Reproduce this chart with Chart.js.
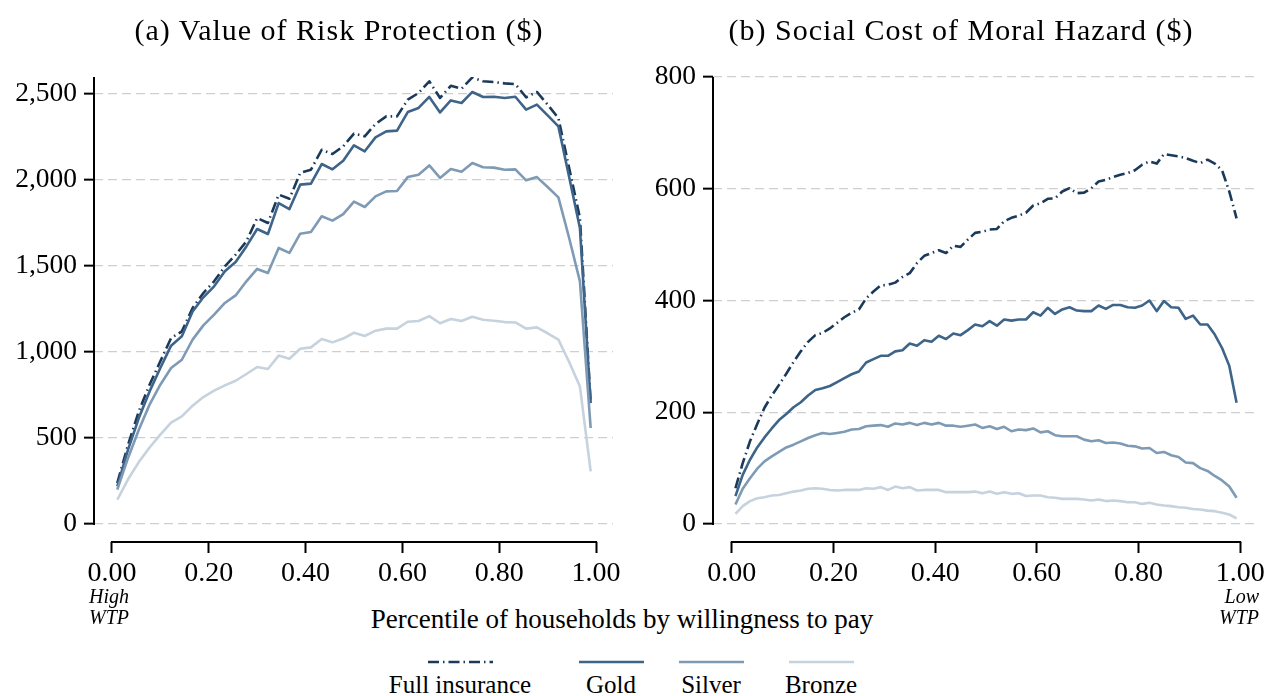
<!DOCTYPE html>
<html>
<head>
<meta charset="utf-8">
<script src="https://cdn.jsdelivr.net/npm/chart.js@4.4.0/dist/chart.umd.min.js"></script>
<style>
  body { margin: 0; width: 1267px; height: 696px; overflow: hidden; position: relative; background: #fff;
         font-family: "Liberation Serif", "Times New Roman", serif; color: #000; }
  canvas { position: absolute; top: 0; }
  #left { left: 0; }
  #right { left: 633px; }
  .title { position: absolute; top: 12px; font-size: 30px; line-height: 36px; letter-spacing: 1px; white-space: nowrap; transform: translateX(-50%); }
  .wtp { position: absolute; top: 586px; font-size: 20px; line-height: 21px; font-style: italic; }
  #xtitle { position: absolute; left: 622px; top: 604px; font-size: 27px; line-height: 30px; white-space: nowrap; transform: translateX(-50%); }
  .item { position: absolute; top: 660px; width: 180px; margin-left: -90px; text-align: center; font-size: 25px; line-height: 26px; white-space: nowrap; }
  .item svg { display: block; margin: 0 auto 8px auto; }
</style>
</head>
<body>
<canvas id="left" width="650" height="600"></canvas>
<canvas id="right" width="665" height="600"></canvas>
<div class="title" style="left:339px">(a) Value of Risk Protection ($)</div>
<div class="title" style="left:961px">(b) Social Cost of Moral Hazard ($)</div>
<div class="wtp" style="left:89px">High<br>WTP</div>
<div class="wtp" style="right:8px;text-align:right">Low<br>WTP</div>
<div id="xtitle">Percentile of households by willingness to pay</div>
<div id="legend"></div>
<script>
// series names and colours
const seriesNames = ["Full insurance", "Gold", "Silver", "Bronze"];
const seriesColors = ["#1b3a5a", "#3e6489", "#7f9ab4", "#c6d2de"];

// x axis ticks (percentile)
const xTicks = [0, 0.2, 0.4, 0.6, 0.8, 1.0];

// (a) value of risk protection, 45 percentile bins
const leftTicks = [0, 500, 1000, 1500, 2000, 2500];
const leftFull = [238, 461, 655, 810, 946, 1081, 1120, 1256, 1343, 1411, 1498, 1566, 1643, 1779, 1750,
  1915, 1891, 2041, 2060, 2176, 2151, 2196, 2270, 2254, 2326, 2370, 2370, 2467, 2506, 2574,
  2477, 2548, 2531, 2597, 2574, 2570, 2562, 2558, 2481, 2512, 2438, 2360, 2070, 1779, 703];
const leftGold = [219, 432, 616, 771, 907, 1037, 1091, 1236, 1318, 1382, 1469, 1523, 1614, 1715, 1686,
  1866, 1831, 1973, 1979, 2093, 2062, 2112, 2202, 2167, 2248, 2283, 2287, 2395, 2419, 2483,
  2393, 2463, 2448, 2512, 2483, 2484, 2477, 2484, 2409, 2438, 2376, 2312, 2017, 1721, 703];
const leftSilver = [200, 384, 548, 694, 810, 907, 955, 1072, 1155, 1217, 1285, 1329, 1411, 1483, 1459,
  1605, 1576, 1688, 1698, 1789, 1764, 1802, 1874, 1843, 1905, 1934, 1936, 2017, 2031, 2085,
  2012, 2064, 2048, 2099, 2074, 2072, 2060, 2062, 1998, 2017, 1959, 1899, 1663, 1411, 558];
const leftBronze = [141, 260, 360, 445, 520, 590, 626, 688, 738, 775, 806, 833, 872, 913, 901,
  979, 961, 1019, 1027, 1076, 1056, 1078, 1112, 1093, 1124, 1136, 1136, 1176, 1180, 1209,
  1167, 1192, 1180, 1205, 1188, 1182, 1174, 1172, 1136, 1143, 1109, 1072, 942, 800, 306];

// (b) social cost of moral hazard, 70 percentile bins
const rightTicks = [0, 200, 400, 600, 800];
const rightFull = [64, 109, 148, 179, 208, 230, 249, 269, 290, 309,
  326, 338, 342, 350, 360, 370, 378, 384, 404, 416,
  427, 428, 432, 442, 449, 467, 480, 485, 490, 485,
  498, 496, 509, 521, 523, 527, 528, 542, 548, 552,
  557, 570, 574, 582, 583, 595, 601, 592, 593, 601,
  613, 616, 621, 625, 628, 633, 643, 649, 645, 662,
  660, 658, 655, 650, 646, 652, 645, 633, 595, 547];
const rightGold = [50, 88, 115, 137, 155, 171, 186, 197, 209, 218,
  230, 240, 243, 247, 254, 261, 268, 273, 289, 295,
  301, 301, 309, 311, 323, 319, 329, 326, 337, 331,
  341, 338, 347, 357, 354, 363, 355, 366, 364, 366,
  366, 379, 373, 387, 376, 384, 388, 382, 381, 381,
  391, 385, 392, 392, 388, 387, 391, 400, 381, 399,
  388, 387, 367, 373, 357, 357, 339, 315, 283, 217];
const rightSilver = [35, 63, 82, 99, 112, 121, 129, 137, 142, 148,
  154, 159, 163, 161, 163, 165, 169, 170, 175, 176,
  177, 174, 180, 178, 181, 177, 181, 178, 181, 176,
  176, 174, 176, 178, 172, 175, 170, 174, 166, 169,
  168, 171, 164, 166, 159, 157, 157, 157, 151, 148,
  150, 145, 146, 144, 140, 139, 135, 136, 127, 129,
  123, 120, 110, 109, 100, 95, 86, 78, 67, 47];
const rightBronze = [18, 32, 41, 46, 48, 51, 52, 55, 58, 60,
  63, 64, 63, 61, 60, 61, 61, 61, 64, 63,
  66, 61, 67, 64, 66, 60, 61, 61, 61, 57,
  57, 57, 57, 58, 55, 58, 54, 57, 54, 55,
  50, 51, 51, 48, 47, 45, 45, 45, 44, 42,
  44, 41, 42, 41, 39, 39, 36, 38, 35, 33,
  32, 30, 29, 27, 26, 24, 23, 20, 17, 10];

const serif = "'Liberation Serif', 'Times New Roman', serif";
const fullDash = [11, 4, 1.5, 4];

// bin midpoints on the percentile axis
const binMid = (i, n) => (i + 0.5) / n;

// draws the y axis line (top to zero) and the x axis line (0 to 1), detached like Stata
const axisLines = {
    id: "axisLines",
    afterDraw(chart) {
        const { ctx, chartArea, scales } = chart;
        ctx.save();
        ctx.strokeStyle = "#000";
        ctx.lineWidth = 2;
        ctx.beginPath();
        ctx.moveTo(chartArea.left, chartArea.top);
        ctx.lineTo(chartArea.left, scales.y.getPixelForValue(0) + 1);
        ctx.moveTo(scales.x.getPixelForValue(0) - 1, chartArea.bottom);
        ctx.lineTo(scales.x.getPixelForValue(1) + 1, chartArea.bottom);
        ctx.stroke();
        ctx.restore();
    }
};

function makePanel(id, data, yMin, yMax, yTicks, yWidth, padRight) {
    const datasets = data.map((vals, s) => ({
        label: seriesNames[s],
        data: vals.map((v, i) => ({ x: binMid(i, vals.length), y: v })),
        borderColor: seriesColors[s],
        borderWidth: 2.6,
        borderDash: s === 0 ? fullDash : [],
        borderJoinStyle: "round",
        pointRadius: 0,
        tension: 0,
        fill: false,
        order: 4 - s
    }));
    return new Chart(document.getElementById(id), {
        type: "line",
        data: { datasets: datasets },
        plugins: [axisLines],
        options: {
            responsive: false,
            animation: false,
            devicePixelRatio: 1,
            layout: { padding: { left: 0, right: padRight, top: 77, bottom: 0 } },
            plugins: { legend: { display: false }, tooltip: { enabled: false } },
            scales: {
                x: {
                    type: "linear",
                    min: -0.037,
                    max: 1.035,
                    afterBuildTicks: (sc) => { sc.ticks = xTicks.map((v) => ({ value: v })); },
                    afterFit: (sc) => { sc.height = 58; },
                    grid: { drawOnChartArea: false, drawTicks: true, tickLength: 11, tickColor: "#000", tickWidth: 2 },
                    border: { display: false },
                    ticks: {
                        padding: 4, maxRotation: 0, autoSkip: false, color: "#000",
                        font: { family: serif, size: 28 },
                        callback: (v) => v.toFixed(2)
                    }
                },
                y: {
                    min: yMin,
                    max: yMax,
                    afterBuildTicks: (sc) => { sc.ticks = yTicks.map((v) => ({ value: v })); },
                    afterFit: (sc) => { sc.width = yWidth; },
                    grid: { color: "#cfcfcf", lineWidth: 1.3, drawTicks: true, tickLength: 10,
                            tickColor: "#000", tickWidth: 2, tickBorderDash: [] },
                    border: { display: false, dash: [9, 5] },
                    ticks: {
                        padding: 7, color: "#000", autoSkip: false,
                        font: { family: serif, size: 27.5 },
                        callback: (v) => v.toLocaleString("en-US")
                    }
                }
            }
        }
    });
}

makePanel("left", [leftFull, leftGold, leftSilver, leftBronze], -104.7, 2599, leftTicks, 94, 37);
makePanel("right", [rightFull, rightGold, rightSilver, rightBronze], -32.2, 800, rightTicks, 80, 40);

// legend: line sample above each label
const legendCenters = [460, 611, 711, 821];
const legend = document.getElementById("legend");
seriesNames.forEach((name, s) => {
    const item = document.createElement("div");
    item.className = "item";
    item.style.left = legendCenters[s] + "px";
    const dash = s === 0 ? ' stroke-dasharray="' + fullDash.join(" ") + '"' : "";
    item.innerHTML = '<svg width="65" height="4"><line x1="0" y1="2" x2="65" y2="2" stroke="' +
        seriesColors[s] + '" stroke-width="2.6"' + dash + '/></svg>' + name;
    legend.appendChild(item);
});
</script>
</body>
</html>
